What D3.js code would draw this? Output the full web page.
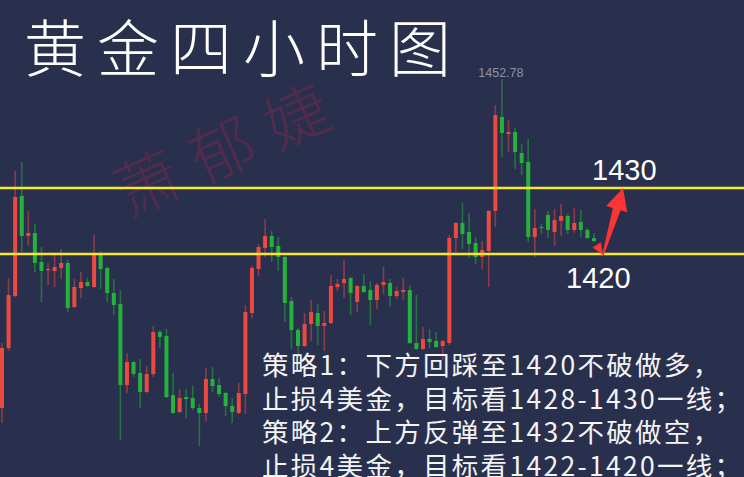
<!DOCTYPE html>
<html><head><meta charset="utf-8">
<script src="https://cdn.jsdelivr.net/npm/d3@7"></script>
<style>html,body{margin:0;padding:0;background:#29304e;}svg{display:block;}</style>
</head><body>
<svg id="c" width="744" height="477"></svg>
<script>
// ---- data (4-hour gold candles) ----
const opens  = [1396.67,1405.76,1413.64,1428.79,1422.73,1423.18,1418.79,1417.58,1417.42,1417.88,
                1418.64,1411.97,1414.85,1415.76,1415.00,1419.85,1417.88,1414.09,1412.42,1400.15,
                1403.64,1401.97,1399.09,1401.82,1408.18,1407.58,1398.64,1396.06,1398.33,1398.18,
                1396.67,1395.91,1401.06,1400.15,1398.94,1396.97,1395.91,1398.79,1411.06,1417.73,
                1420.91,1422.73,1421.21,1419.55,1412.88,1408.48,1406.06,1409.39,1411.06,1409.09,
                1409.55,1415.00,1415.61,1416.36,1412.73,1415.15,1414.55,1413.03,1415.30,1415.61,
                1413.64,1414.24,1414.55,1406.52,1405.61,1407.12,1406.82,1406.06,1406.52,1422.42,
                1424.70,1423.33,1421.67,1419.55,1420.45,1426.52,1440.76,1438.18,1438.48,1435.30,
                1433.94,1422.58,1424.09,1425.91,1423.33,1425.00,1425.76,1423.64,1424.85,1423.64,
                1422.42];
const highs  = [1406.52,1416.36,1432.58,1433.94,1426.52,1424.55,1421.06,1418.64,1419.85,1420.76,
                1419.09,1416.21,1417.27,1416.36,1422.88,1420.45,1418.03,1416.21,1414.55,1405.00,
                1403.79,1404.09,1403.03,1409.09,1408.48,1408.64,1401.97,1399.55,1399.55,1400.00,
                1397.27,1402.73,1402.88,1401.21,1399.09,1398.18,1400.45,1412.27,1418.18,1421.52,
                1425.30,1423.48,1422.58,1419.70,1413.48,1408.79,1411.06,1413.03,1412.42,1411.36,
                1416.82,1416.21,1419.09,1416.52,1415.30,1416.97,1415.91,1415.61,1418.03,1416.21,
                1415.00,1416.36,1415.30,1413.79,1408.94,1408.64,1408.18,1406.97,1422.88,1424.85,
                1427.73,1426.21,1422.58,1421.97,1426.67,1442.58,1446.52,1440.30,1439.09,1436.67,
                1437.42,1426.82,1424.55,1426.52,1426.82,1427.58,1426.06,1426.97,1426.67,1423.94,
                1423.18];
const lows   = [1394.39,1405.30,1413.48,1420.30,1421.21,1417.27,1412.73,1415.30,1415.00,1416.21,
                1411.21,1411.82,1413.33,1415.00,1414.85,1414.70,1412.73,1410.76,1391.82,1398.94,
                1401.36,1396.67,1398.94,1401.36,1405.76,1398.18,1395.76,1395.91,1395.15,1396.36,
                1390.91,1394.70,1399.09,1398.33,1395.45,1394.39,1395.76,1395.76,1410.30,1416.67,
                1419.55,1418.79,1417.42,1409.70,1405.61,1404.39,1405.91,1406.82,1406.21,1405.30,
                1409.39,1414.39,1413.33,1410.76,1411.21,1414.09,1409.24,1411.67,1413.94,1411.97,
                1413.18,1413.03,1406.36,1405.45,1405.45,1405.76,1405.76,1403.94,1406.21,1420.15,
                1420.76,1419.39,1418.48,1417.73,1415.00,1424.09,1434.70,1435.45,1432.88,1431.97,
                1421.82,1419.55,1423.03,1422.42,1421.21,1422.73,1423.03,1423.18,1422.58,1422.27,
                1421.82];
const closes = [1405.76,1413.79,1428.64,1422.73,1423.18,1418.64,1417.42,1417.73,1418.03,1418.64,
                1411.82,1415.00,1415.76,1415.15,1419.85,1417.73,1414.09,1412.27,1400.15,1403.64,
                1401.82,1399.09,1401.82,1408.18,1407.42,1398.33,1395.91,1398.18,1398.03,1396.67,
                1395.91,1401.06,1400.00,1398.79,1396.97,1396.06,1398.94,1411.21,1417.88,1421.06,
                1422.73,1421.06,1419.55,1412.58,1408.48,1406.06,1409.39,1411.21,1409.09,1409.55,
                1415.15,1415.45,1416.21,1414.09,1415.15,1414.24,1413.03,1415.30,1415.76,1413.64,
                1414.39,1414.55,1406.52,1405.61,1407.12,1406.67,1405.91,1406.82,1422.42,1424.70,
                1423.03,1421.52,1419.55,1420.61,1426.52,1441.06,1438.33,1438.48,1435.45,1433.79,
                1422.58,1423.94,1423.94,1423.64,1425.15,1425.76,1423.64,1424.70,1423.64,1422.42,
                1421.97];
const levels = [1430, 1420];
const levelLabels = ["1430", "1420"];
const highLabel = "1452.78";
const title = "黄金四小时图";
const watermark = "萧郁婕";
const strategyLines = [
  "策略1：下方回踩至1420不破做多，",
  "止损4美金，目标看1428-1430一线；",
  "策略2：上方反弹至1432不破做空，",
  "止损4美金，目标看1422-1420一线；"
];

// ---- drawing ----
const W = 744, H = 477;
const svg = d3.select("#c");
svg.append("rect").attr("width", W).attr("height", H).attr("fill", "#29304e");

const n = opens.length;
const x = d3.scaleLinear().domain([0, n - 1]).range([2, 594]);
const y = d3.scaleLinear().domain([1420, 1430]).range([254, 188]);

const UP = "#ec4a40", DOWN = "#25b23b";
const bars = d3.range(n).map(i => ({i, o: opens[i], h: highs[i], l: lows[i], c: closes[i]}));

// watermark
svg.append("text")
  .attr("transform", "translate(240,168) rotate(-24)")
  .attr("text-anchor", "middle")
  .attr("font-family", "'Noto Sans CJK SC'")
  .attr("font-size", 64).attr("font-weight", 300).attr("letter-spacing", 18)
  .attr("fill", "#522c4c")
  .text(watermark);

// title
svg.append("text")
  .attr("x", 24).attr("y", 72)
  .attr("font-family", "'Noto Sans CJK SC'")
  .attr("font-size", 62).attr("font-weight", 300).attr("letter-spacing", 11)
  .attr("fill", "#ffffff")
  .text(title);

// candles
const g = svg.append("g");
const cg = g.selectAll("g.k").data(bars).join("g").attr("class", "k");
cg.append("line")
  .attr("x1", d => x(d.i)).attr("x2", d => x(d.i))
  .attr("y1", d => y(d.h)).attr("y2", d => y(d.l))
  .attr("stroke", d => d.c >= d.o ? UP : DOWN)
  .attr("stroke-opacity", 0.5).attr("stroke-width", 1.6);
cg.append("rect")
  .attr("x", d => x(d.i) - 2).attr("width", 4)
  .attr("y", d => y(Math.max(d.o, d.c)))
  .attr("height", d => Math.max(1.2, Math.abs(y(d.o) - y(d.c))))
  .attr("fill", d => d.c >= d.o ? UP : DOWN);

// high label
const hiIdx = d3.maxIndex(highs);
svg.append("text")
  .attr("x", x(hiIdx) - 1).attr("y", 77)
  .attr("text-anchor", "middle")
  .attr("font-family", "'Liberation Sans', Arial, sans-serif")
  .attr("font-size", 12.5).attr("fill", "#8d92a4")
  .text(highLabel);

// level lines
svg.selectAll("line.lvl").data(levels).join("line").attr("class", "lvl")
  .attr("x1", 0).attr("x2", W)
  .attr("y1", d => y(d)).attr("y2", d => y(d))
  .attr("stroke", "#f8e82c").attr("stroke-width", 2.4);

// level labels
svg.append("text").attr("x", 592).attr("y", y(levels[0]) - 8)
  .attr("font-family", "'Liberation Sans', Arial, sans-serif")
  .attr("font-size", 29).attr("fill", "#ffffff").text(levelLabels[0]);
svg.append("text").attr("x", 566).attr("y", y(levels[1]) + 34)
  .attr("font-family", "'Liberation Sans', Arial, sans-serif")
  .attr("font-size", 29).attr("fill", "#ffffff").text(levelLabels[1]);

// arrows
const bx = x(n - 1) + 9, by = y(levels[1]) + 1;
const tx = bx + 20, ty = y(levels[0]);
const dx = tx - bx, dy = ty - by, len = Math.hypot(dx, dy);
const ux = dx / len, uy = dy / len, nx = -uy, ny = ux;
const hl = 22, hw = 11, sw = 4;
const hx = tx - hl * ux, hy = ty - hl * uy;
const bigArrow = [
  [bx - 0.8 * nx, by - 0.8 * ny],
  [hx - sw * nx, hy - sw * ny],
  [hx - hw * nx, hy - hw * ny],
  [tx, ty],
  [hx + hw * nx, hy + hw * ny],
  [hx + sw * nx, hy + sw * ny],
  [bx + 0.8 * nx, by + 0.8 * ny]
];
svg.append("path").attr("d", d3.line()(bigArrow) + "Z").attr("fill", "#fb3434");
// small down arrowhead into the 1420 line
const sx0 = x(n - 1) + 1, sy0 = y(closes[n - 1]) + 1;
const sdx = bx - sx0, sdy = by - sy0, sl = Math.hypot(sdx, sdy);
const sux = sdx / sl, suy = sdy / sl, snx = -suy, sny = sux;
const sbx = bx - 12 * sux, sby = by - 12 * suy;
svg.append("path").attr("d", d3.line()([
  [bx, by], [sbx + 5 * snx, sby + 5 * sny], [sbx - 5 * snx, sby - 5 * sny]
]) + "Z").attr("fill", "#fb3434");

// strategy text
svg.selectAll("text.st").data(strategyLines).join("text").attr("class", "st")
  .attr("x", 262).attr("y", (d, i) => 375 + i * 33.5)
  .attr("font-family", "'Noto Sans CJK SC'")
  .attr("font-size", 26.5).attr("letter-spacing", 2.3)
  .attr("fill", "#f4f4f4")
  .text(d => d);
</script>
</body></html>
